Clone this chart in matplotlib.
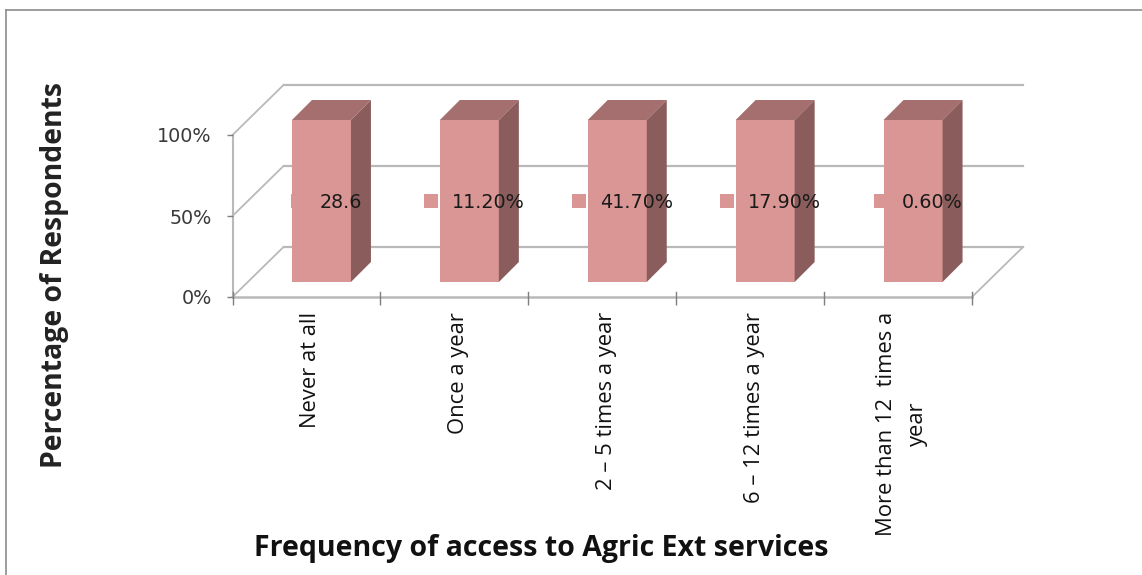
import matplotlib
matplotlib.use('Agg')
import numpy as np
import matplotlib.pyplot as plt
from matplotlib.lines import Line2D
from matplotlib.patches import Rectangle

# --------------------------- DATA -------------------------------
categories = ['Never at all', 'Once a year', '2 \u2013 5 times a year', '6 \u2013 12 times a year',
              'More than 12  times a\nyear']
bar_values = [100, 100, 100, 100, 100]  # 100% stacked, one series
data_labels = ['28.6', '11.20%', '41.70%', '17.90%', '0.60%']
y_ticks = [0, 50, 100]
y_tick_labels = ['0%', '50%', '100%']

# --------------------------- STYLE ------------------------------
W, H = 1142, 575
front = '#d99694'
top = '#a46f6e'
side = '#8a5d5c'
grid = '#b9b9b9'
tick_text = '#3a3a3a'

fig = plt.figure(figsize=(W/100, H/100), dpi=100, facecolor='white')

# Front plane of the fake 3D box
left, right, y0, y100 = 232.5, 972, 297, 135
ax = fig.add_axes([left/W, 1-y0/H, (right-left)/W, (y0-y100)/H])
ax.set_xlim(0, len(categories))
ax.set_ylim(0, 100)
ax.patch.set_visible(False)
for s in ax.spines.values():
    s.set_visible(False)

px_x = len(categories)/(right-left)  # data units per pixel
px_y = 100/(y0-y100)
wall_dx, wall_dy = 51*px_x, 50*px_y
bar_off_x, bar_off_y = 15*px_x, 15*px_y
bar_dx, bar_dy = 20*px_x, 20*px_y
bar_w = 59*px_x
n = len(categories)

# walls and gridlines
for v in y_ticks:
    ax.plot([0, wall_dx], [v, v+wall_dy], color=grid, lw=1.3, clip_on=False, zorder=1)
    ax.plot([wall_dx, n+wall_dx], [v+wall_dy, v+wall_dy], color=grid, lw=1.6, clip_on=False, zorder=1)
ax.plot([n, n+wall_dx], [0, wall_dy], color=grid, lw=1.3, clip_on=False, zorder=1)
ax.plot([0, n], [0, 0], color=grid, lw=1.8, clip_on=False, zorder=1)
ax.plot([0, 0], [0, 100], color=grid, lw=1.5, clip_on=False, zorder=1)

# bars
for i, v in enumerate(bar_values):
    xl = i + 0.5 - bar_w/2 + bar_off_x
    xr = xl + bar_w
    yb = bar_off_y
    yt = yb + v
    ax.bar(xl + bar_w/2, v, width=bar_w, bottom=yb, color=front, edgecolor='none', clip_on=False, zorder=3)
    ax.fill([xl, xr, xr+bar_dx, xl+bar_dx], [yt, yt, yt+bar_dy, yt+bar_dy], color=top, lw=0, clip_on=False, zorder=3)
    ax.fill([xr, xr+bar_dx, xr+bar_dx, xr], [yb, yb+bar_dy, yt+bar_dy, yt], color=side, lw=0, clip_on=False, zorder=3)

# data labels with legend key
fig.canvas.draw()
renderer = fig.canvas.get_renderer()
for i, lab in enumerate(data_labels):
    xc = i + 0.5 + bar_off_x + 5*px_x
    yc = bar_off_y + 50
    t = ax.text(xc, yc - 1*px_y, lab, fontsize=13.8, color='#1a1a1a', ha='left', va='center', family='DejaVu Sans',
                zorder=5, clip_on=False)
    tw = t.get_window_extent(renderer).width*px_x
    group = 28*px_x + tw
    x_start = xc - group/2
    t.set_x(x_start + 28*px_x)
    ax.add_patch(Rectangle((x_start, yc - 7*px_y), 14*px_x, 14*px_y, facecolor=front, edgecolor='none',
                           clip_on=False, zorder=4))

# ticks
ax.set_xticks(np.arange(n+1))
ax.set_xticklabels([])
ax.set_yticks(y_ticks)
ax.set_yticklabels(y_tick_labels, fontsize=13.8, color=tick_text, family='DejaVu Sans')
ax.tick_params(axis='x', length=5.5, width=1, color='#7f7f7f', direction='out')
ax.tick_params(axis='y', length=4, width=1, color='#7f7f7f', pad=11)
for xt in range(n+1):
    ax.plot([xt, xt], [0, 5*px_y], color='#7f7f7f', lw=1, clip_on=False, zorder=2)

# category labels
for i, c in enumerate(categories):
    xc = i + 0.5
    fig.text((left + (right-left)*xc/n + 4)/W, 1-312/H, c, rotation=90, ha='center', va='top',
             multialignment='center', fontsize=15.8, color='#111111', family='Open Sans', linespacing=1.6)

# axis titles
fig.text(541.5/W, 1-548.5/H, 'Frequency of access to Agric Ext services', fontsize=20.5, fontweight='bold',
         family='Open Sans', ha='center', va='center', color='#111111')
fig.text(54.5/W, 1-274.5/H, 'Percentage of Respondents', fontsize=20.4, fontweight='bold', rotation=90,
         family='Open Sans', ha='center', va='center', color='#222222')

# outer frame, open on the right
fig.add_artist(Line2D([6/W, 6/W], [0, 1-10/H], color='#8c8c8c', lw=1.2))
fig.add_artist(Line2D([6/W, 1], [1-10/H, 1-10/H], color='#8c8c8c', lw=1.2))

fig.savefig('out.png', dpi=100)
